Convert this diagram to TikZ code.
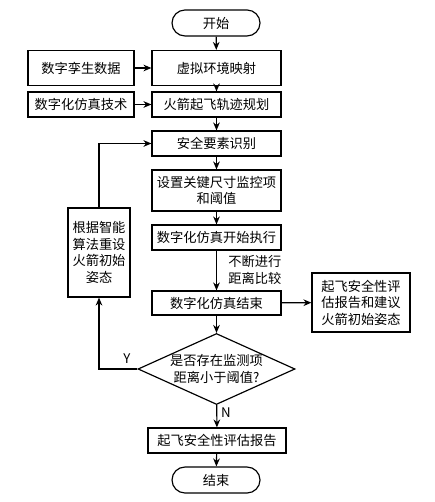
\documentclass[tikz,border=0pt]{standalone}
\usepackage{fontspec}
\setmainfont{Noto Sans CJK SC}
\usetikzlibrary{arrows.meta,shapes.misc,shapes.geometric}

\begin{document}
\begin{tikzpicture}[x=0.3mm,y=-0.3mm,line width=1pt,
    font=\fontsize{11.3}{14}\selectfont,
    proc/.style={draw,rectangle,inner sep=0pt,align=center},
    term/.style={draw,rounded rectangle,inner sep=0pt,minimum width=26.4mm,minimum height=7.8mm},
    flow/.style={-{Stealth[length=2.4mm,width=2mm]}}]
    \useasboundingbox (0,0) rectangle (434,502);

    \node[term] (start) at (216,23) {开始};
    \node[proc,minimum width=38.7mm,minimum height=10.5mm] (map) at (216.5,68) {虚拟环境映射};
    \node[proc,minimum width=31.8mm,minimum height=10.5mm] (twin) at (81,68) {数字孪生数据};
    \node[proc,minimum width=38.7mm,minimum height=7.5mm] (traj) at (216.5,104.5) {火箭起飞轨迹规划};
    \node[proc,minimum width=31.8mm,minimum height=7.5mm] (simtech) at (81,104.5) {数字化仿真技术};
    \node[proc,minimum width=38.7mm,minimum height=7.5mm] (ident) at (216.5,143.5) {安全要素识别};
    \node[proc,minimum width=38.7mm,minimum height=12.3mm] (setmon) at (216.5,190.5) {设置关键尺寸监控项\\和阈值};
    \node[proc,minimum width=18.6mm,minimum height=26.7mm] (reset) at (99,252.5) {根据智能\\算法重设\\火箭初始\\姿态};
    \node[proc,minimum width=38.7mm,minimum height=7.5mm] (simstart) at (216.5,237.5) {数字化仿真开始执行};
    \node[proc,minimum width=38.7mm,minimum height=7.2mm] (simend) at (216.5,303) {数字化仿真结束};
    \node[proc,minimum width=29.4mm,minimum height=17.7mm] (advice) at (361,302.5) {起飞安全性评\\估报告和建议\\火箭初始姿态};
    \node[draw,diamond,aspect=2.2,inner sep=0pt,minimum width=47.1mm,minimum height=21.3mm,align=center] (judge) at (216.5,369) {是否存在监测项\\距离小于阈值?};
    \node[proc,minimum width=41.4mm,minimum height=7.5mm] (report) at (217,440.5) {起飞安全性评估报告};
    \node[term] (stop) at (216,480) {结束};

    \node[align=left,anchor=west] (cmp) at (224,270) {不断进行\\距离比较};
    \node (yes) at (127,359) {Y};
    \node (no) at (226,413) {N};

    \draw[flow] (start) -- (map);
    \draw[flow] (twin) -- (map);
    \draw[flow] (map) -- (traj);
    \draw[flow] (simtech) -- (traj);
    \draw[flow] (traj) -- (ident);
    \draw[flow] (ident) -- (setmon);
    \draw[flow] (setmon) -- (simstart);
    \draw[flow] (simstart) -- (simend);
    \draw[flow] (simend) -- (advice);
    \draw[flow] (simend) -- (judge);
    \draw[flow] (judge) -- (report);
    \draw[flow] (report) -- (stop);
    \draw[flow] (judge.west) -| (reset.south);
    \draw[flow] (reset.north) |- (ident.west);
  \end{tikzpicture}
\end{document}
